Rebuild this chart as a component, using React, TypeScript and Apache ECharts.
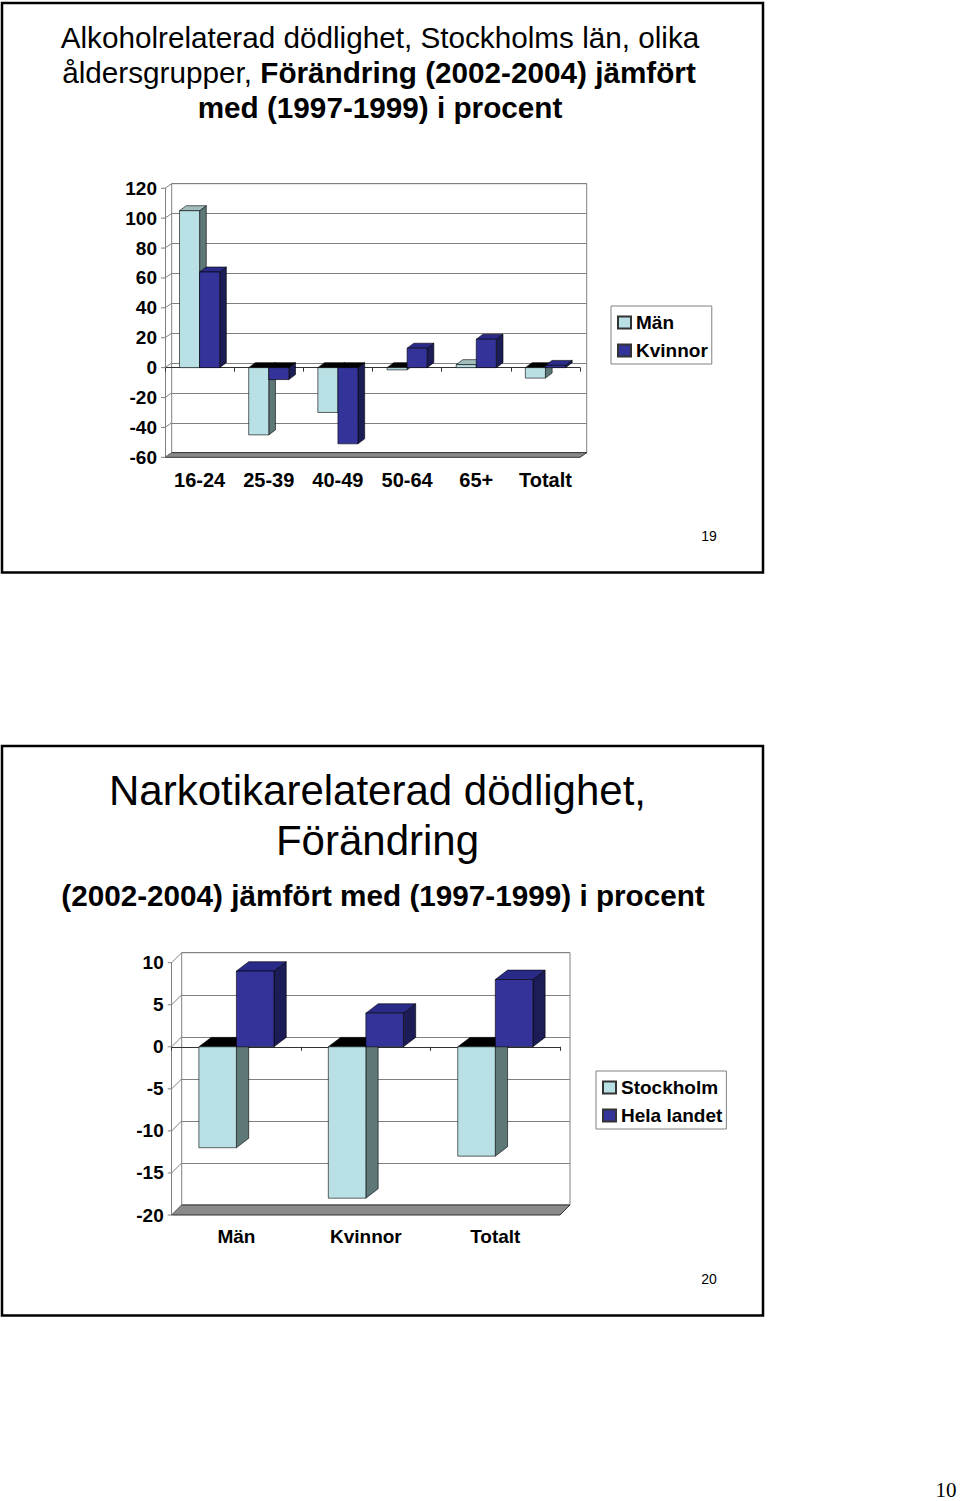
import React, { useEffect, useRef } from "react";
import * as echarts from "echarts";

// ---------- data ----------
const alcoholCategories = ["16-24", "25-39", "40-49", "50-64", "65+", "Totalt"];
const alcoholMen = [105, -45, -30, -1.5, 2, -7];
const alcoholWomen = [64, -8, -51, 13, 19, 1.5];
const alcoholTicks = [-60, -40, -20, 0, 20, 40, 60, 80, 100, 120];
const alcoholSeriesNames = ["Män", "Kvinnor"];

const drugCategories = ["Män", "Kvinnor", "Totalt"];
const drugStockholm = [-12, -18, -13];
const drugSweden = [9, 4, 8];
const drugTicks = [-20, -15, -10, -5, 0, 5, 10];
const drugSeriesNames = ["Stockholm", "Hela landet"];

// ---------- styling ----------
const FONT = '"Liberation Sans", Arial, Helvetica, sans-serif';
const LIGHT = { front: "#b9e1e5", side: "#5e7777", top: "#a3bcbc" };
const DARK = { front: "#333399", side: "#1c1c56", top: "#2a2a88" };
const BAR_RATIO = 0.29;

function barRenderer(colors: any, slot: number, depth: [number, number]) {
  return (params: any, api: any) => {
    const idx = api.value(0);
    const v = api.value(1);
    const p0 = api.coord([idx, 0]);
    const pv = api.coord([idx, v]);
    const band = api.size([1, 0])[0];
    const bw = band * BAR_RATIO;
    const x0 = p0[0] + slot * bw;
    const x1 = x0 + bw;
    const yTop = Math.min(p0[1], pv[1]);
    const yBot = Math.max(p0[1], pv[1]);
    const [dx, dy] = depth;
    const stroke = { stroke: "#000", lineWidth: 0.6 };
    const topFill = v >= 0 ? colors.top : "#000";
    return {
      type: "group",
      children: [
        {
          type: "polygon",
          shape: { points: [[x1, yTop], [x1 + dx, yTop + dy], [x1 + dx, yBot + dy], [x1, yBot]] },
          style: { fill: colors.side, ...stroke },
        },
        {
          type: "polygon",
          shape: { points: [[x0, yTop], [x1, yTop], [x1 + dx, yTop + dy], [x0 + dx, yTop + dy]] },
          style: { fill: topFill, ...stroke },
        },
        {
          type: "rect",
          shape: { x: x0, y: yTop, width: bw, height: yBot - yTop },
          style: { fill: colors.front, ...stroke },
        },
      ],
    };
  };
}

function wallRenderer(offset: [number, number]) {
  return (params: any, api: any) => {
    const v = api.value(1);
    const cs = params.coordSys;
    const y = api.coord([0, v])[1];
    const x = cs.x;
    const [dx, dy] = offset;
    const children: any[] = [
      { type: "line", shape: { x1: x - 4, y1: y, x2: x, y2: y }, style: { stroke: "#808080", lineWidth: 1 } },
      { type: "line", shape: { x1: x, y1: y, x2: x + dx, y2: y + dy }, style: { stroke: "#808080", lineWidth: 1 } },
    ];
    if (params.dataIndex === 0) {
      const yb = cs.y + cs.height;
      children.unshift({
        type: "polygon",
        shape: {
          points: [
            [x, yb],
            [x + cs.width, yb],
            [x + cs.width + dx, yb + dy],
            [x + dx, yb + dy],
          ],
        },
        style: { fill: "#8a8a8a", stroke: "#333", lineWidth: 1 },
      });
    }
    return { type: "group", children };
  };
}

function textEl(text: string, x: number, y: number, size: number, weight: string, family = FONT) {
  return {
    type: "text",
    x: 0,
    y: 0,
    style: {
      text,
      x,
      y,
      fill: "#000",
      fontSize: size,
      fontWeight: weight,
      fontFamily: family,
      font: `${weight} ${size}px ${family}`,
      align: "center",
      verticalAlign: "middle",
      textAlign: "center",
      textVerticalAlign: "middle",
    },
  };
}

function buildOption() {
  const topFront = { left: 165, top: 188.3, width: 415, height: 269 };
  const topBack = { left: 171.7, top: 183.7, width: 415, height: 269 };
  const botFront = { left: 171.7, top: 962.7, width: 388.3, height: 252.3 };
  const botBack = { left: 181.7, top: 952.7, width: 388.3, height: 252.3 };
  const TOP_WALL: [number, number] = [6.7, -4.6];
  const TOP_DEPTH: [number, number] = [6.7, -5];
  const BOT_WALL: [number, number] = [10, -10];
  const BOT_DEPTH: [number, number] = [12.3, -9.4];

  const gridBase = { containLabel: false, outerBoundsMode: "none" };

  const labelStyle = (size: number, margin: number) => ({
    fontFamily: FONT,
    fontWeight: "bold",
    fontSize: size,
    color: "#000",
    margin,
  });

  const aMin = alcoholTicks[0];
  const aMax = alcoholTicks[alcoholTicks.length - 1];
  const aInt = alcoholTicks[1] - alcoholTicks[0];
  const dMin = drugTicks[0];
  const dMax = drugTicks[drugTicks.length - 1];
  const dInt = drugTicks[1] - drugTicks[0];

  const legendBase = {
    orient: "vertical",
    icon: "rect",
    itemWidth: 13,
    itemHeight: 12,
    itemGap: 9,
    borderColor: "#808080",
    borderWidth: 1,
    backgroundColor: "#fff",
    selectedMode: false,
    textStyle: { fontFamily: FONT, fontWeight: "bold", fontSize: 19, color: "#000" },
  };

  return {
    animation: false,
    backgroundColor: "#fff",
    grid: [
      { ...gridBase, ...topFront },
      { ...gridBase, ...topBack, show: true, borderColor: "#808080", borderWidth: 1 },
      { ...gridBase, ...botFront },
      { ...gridBase, ...botBack, show: true, borderColor: "#808080", borderWidth: 1 },
    ],
    xAxis: [
      // top chart: labels
      {
        gridIndex: 0, type: "category", data: alcoholCategories, position: "bottom",
        axisLine: { show: false, onZero: false }, axisTick: { show: false },
        axisLabel: { ...labelStyle(20, 13), interval: 0 },
      },
      // top chart: zero line
      {
        gridIndex: 0, type: "category", data: alcoholCategories, position: "top",
        axisLine: { show: true, onZero: true, lineStyle: { color: "#333", width: 1 } },
        axisTick: { show: true, inside: true, length: 4, lineStyle: { color: "#333" } },
        axisLabel: { show: false },
      },
      // top chart: back wall
      { gridIndex: 1, type: "category", data: alcoholCategories, show: false },
      // bottom chart: labels
      {
        gridIndex: 2, type: "category", data: drugCategories, position: "bottom",
        axisLine: { show: false, onZero: false }, axisTick: { show: false },
        axisLabel: { ...labelStyle(19, 12), interval: 0 },
      },
      // bottom chart: zero line
      {
        gridIndex: 2, type: "category", data: drugCategories, position: "top",
        axisLine: { show: true, onZero: true, lineStyle: { color: "#333", width: 1 } },
        axisTick: { show: true, inside: true, length: 4, lineStyle: { color: "#333" } },
        axisLabel: { show: false },
      },
      // bottom chart: back wall
      { gridIndex: 3, type: "category", data: drugCategories, show: false },
    ],
    yAxis: [
      {
        gridIndex: 0, type: "value", min: aMin, max: aMax, interval: aInt,
        axisLine: { show: true, lineStyle: { color: "#808080" } },
        axisTick: { show: false },
        axisLabel: labelStyle(19, 8),
        splitLine: { show: false },
      },
      {
        gridIndex: 1, type: "value", min: aMin, max: aMax, interval: aInt,
        axisLine: { show: false }, axisTick: { show: false }, axisLabel: { show: false },
        splitLine: { show: true, lineStyle: { color: "#808080", width: 1 } },
      },
      {
        gridIndex: 2, type: "value", min: dMin, max: dMax, interval: dInt,
        axisLine: { show: true, lineStyle: { color: "#808080" } },
        axisTick: { show: false },
        axisLabel: labelStyle(19, 8),
        splitLine: { show: false },
      },
      {
        gridIndex: 3, type: "value", min: dMin, max: dMax, interval: dInt,
        axisLine: { show: false }, axisTick: { show: false }, axisLabel: { show: false },
        splitLine: { show: true, lineStyle: { color: "#808080", width: 1 } },
      },
    ],
    legend: [
      { ...legendBase, data: alcoholSeriesNames, left: 611, top: 306, padding: [7, 4, 4, 6] },
      { ...legendBase, data: drugSeriesNames, left: 596, top: 1071, padding: [7, 4, 4, 6] },
    ],
    series: [
      {
        type: "custom", xAxisIndex: 0, yAxisIndex: 0, z: 1, silent: true,
        data: alcoholTicks.map((v) => [0, v]),
        renderItem: wallRenderer(TOP_WALL),
      },
      {
        type: "custom", name: alcoholSeriesNames[0], xAxisIndex: 0, yAxisIndex: 0, z: 3,
        itemStyle: { color: LIGHT.front, borderColor: "#333", borderWidth: 1 },
        data: alcoholMen.map((v, i) => [i, v]),
        renderItem: barRenderer(LIGHT, -1, TOP_DEPTH),
      },
      {
        type: "custom", name: alcoholSeriesNames[1], xAxisIndex: 0, yAxisIndex: 0, z: 3,
        itemStyle: { color: DARK.front, borderColor: "#333", borderWidth: 1 },
        data: alcoholWomen.map((v, i) => [i, v]),
        renderItem: barRenderer(DARK, 0, TOP_DEPTH),
      },
      {
        type: "custom", xAxisIndex: 3, yAxisIndex: 2, z: 1, silent: true,
        data: drugTicks.map((v) => [0, v]),
        renderItem: wallRenderer(BOT_WALL),
      },
      {
        type: "custom", name: drugSeriesNames[0], xAxisIndex: 3, yAxisIndex: 2, z: 3,
        itemStyle: { color: LIGHT.front, borderColor: "#333", borderWidth: 1 },
        data: drugStockholm.map((v, i) => [i, v]),
        renderItem: barRenderer(LIGHT, -1, BOT_DEPTH),
      },
      {
        type: "custom", name: drugSeriesNames[1], xAxisIndex: 3, yAxisIndex: 2, z: 3,
        itemStyle: { color: DARK.front, borderColor: "#333", borderWidth: 1 },
        data: drugSweden.map((v, i) => [i, v]),
        renderItem: barRenderer(DARK, 0, BOT_DEPTH),
      },
    ],
    graphic: [
      { type: "rect", shape: { x: 2, y: 3, width: 761, height: 569.5 }, style: { fill: "none", stroke: "#000", lineWidth: 2.5 } },
      { type: "rect", shape: { x: 2, y: 746, width: 761, height: 569.5 }, style: { fill: "none", stroke: "#000", lineWidth: 2.5 } },
      textEl("Alkoholrelaterad dödlighet, Stockholms län, olika", 380, 37, 29.7, "normal"),
      {
        type: "text",
        style: {
          text: "{n|åldersgrupper, }{b|Förändring (2002-2004) jämfört}",
          x: 379,
          y: 72,
          align: "center",
          verticalAlign: "middle",
          textAlign: "center",
          textVerticalAlign: "middle",
          fill: "#000",
          rich: {
            n: { fontFamily: FONT, fontSize: 29.7, fontWeight: "normal", color: "#000" },
            b: { fontFamily: FONT, fontSize: 29.7, fontWeight: "bold", color: "#000" },
          },
        },
      },
      textEl("med (1997-1999) i procent", 380, 107, 29.7, "bold"),
      textEl("19", 709, 536, 14, "normal"),
      textEl("Narkotikarelaterad dödlighet,", 377.5, 790, 42, "normal"),
      textEl("Förändring", 377.5, 840, 42, "normal"),
      textEl("(2002-2004) jämfört med (1997-1999) i procent", 383, 895, 29.7, "bold"),
      textEl("20", 709, 1279, 14, "normal"),
      textEl("10", 946, 1490, 21, "normal", '"Liberation Serif", "Times New Roman", serif'),
    ],
  };
}

export default function App() {
  const ref = useRef<HTMLDivElement>(null);
  useEffect(() => {
    if (!ref.current) return;
    const chart = echarts.init(ref.current, null, { renderer: "svg" });
    chart.setOption(buildOption() as any);
    return () => chart.dispose();
  }, []);
  return (
    <div
      ref={ref}
      style={{ position: "absolute", left: 0, top: 0, width: 960, height: 1501, background: "#fff" }}
    />
  );
}
